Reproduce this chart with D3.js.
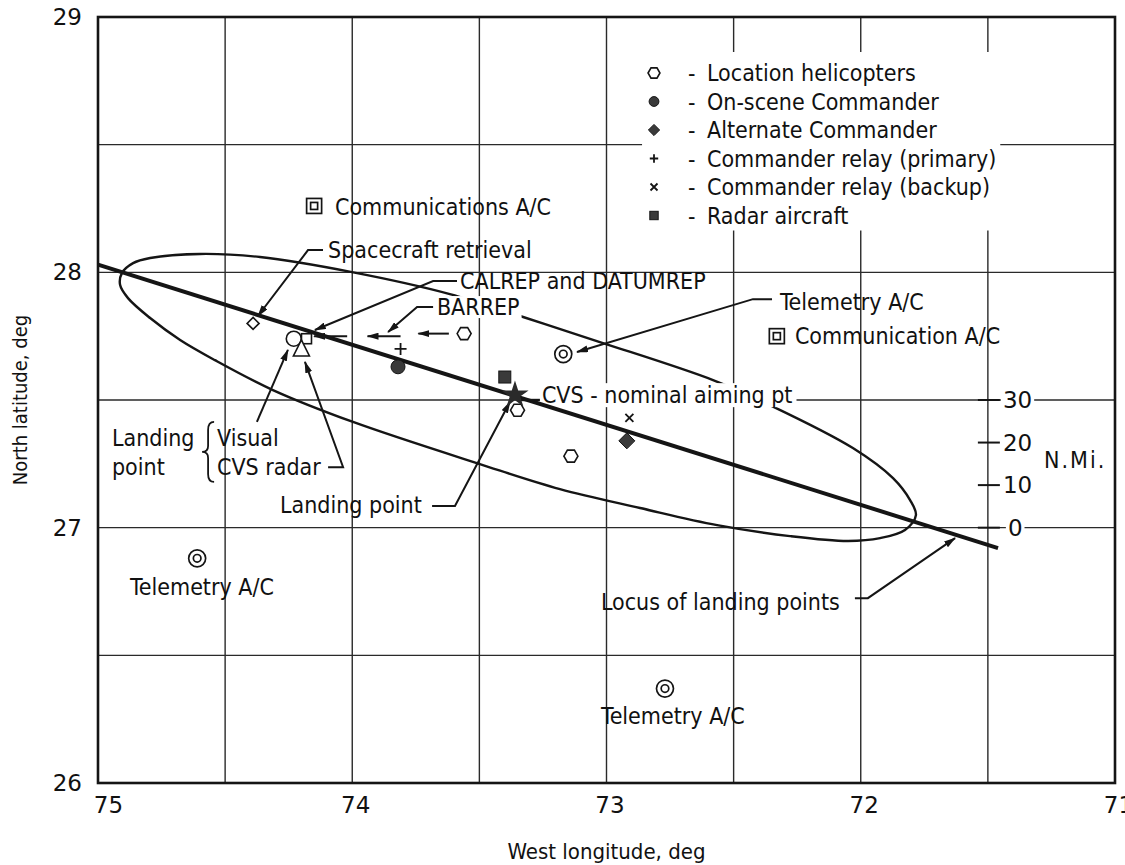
<!DOCTYPE html>
<html><head><meta charset="utf-8">
<script src="https://cdn.jsdelivr.net/npm/d3@7"></script>
<style>
body{margin:0;background:#fff;}
svg{display:block;background:#fff;}
.lbl{font-family:"DejaVu Sans Condensed","DejaVu Sans",sans-serif;font-stretch:condensed;fill:#111;}
.num{font-family:"DejaVu Sans",sans-serif;fill:#111;}
</style></head><body>
<svg id="c" width="1125" height="865"></svg>
<script>
// ---------- data ----------
const lonTicks=[75,74,73,72,71];
const latTicks=[29,28,27,26];
const gridLon=[74.5,74,73.5,73,72.5,72,71.5];
const gridLat=[28.5,28,27.5,27,26.5];

// dispersion ellipse outline (west longitude, north latitude)
const ellipseLon=[74.913,74.906,74.862,74.795,74.599,74.363,74.001,73.616,73.328,73.026,72.581,72.357,72.031,71.873,71.806,71.783,71.826,71.924,72.050,72.278,72.565,72.868,73.183,73.498,73.997,74.312,74.540,74.677,74.795,74.882];
const ellipseLat=[27.950,27.997,28.036,28.056,28.072,28.060,28.001,27.915,27.825,27.727,27.578,27.480,27.312,27.194,27.108,27.049,26.991,26.959,26.948,26.967,27.010,27.077,27.151,27.249,27.414,27.539,27.656,27.735,27.821,27.899];

// locus of landing points
const locusLon=[75.00,71.46];
const locusLat=[28.03,26.92];

// recovery forces
const helicopterLon=[73.56,73.35,73.14];
const helicopterLat=[27.76,27.46,27.28];
const commanderLon=[73.82], commanderLat=[27.63];
const altCommanderLon=[72.92], altCommanderLat=[27.34];
const relayPrimaryLon=[73.81], relayPrimaryLat=[27.70];
const relayBackupLon=[72.91], relayBackupLat=[27.43];
const radarLon=[73.40], radarLat=[27.59];
const telemetryLon=[73.17,74.61,72.77];
const telemetryLat=[27.68,26.88,26.37];
const commsLon=[74.15,72.33];
const commsLat=[28.26,27.75];
const cvsLon=[73.36], cvsLat=[27.52];
const visualLon=[74.23], visualLat=[27.74];
const cvsRadarLon=[74.20], cvsRadarLat=[27.70];
const calrepLon=[74.18], calrepLat=[27.74];
const retrievalLon=[74.39], retrievalLat=[27.80];

// drift arrows (from -> to)
const driftFromLon=[74.02,73.81,73.62];
const driftToLon=[74.15,73.94,73.74];
const driftLat=[27.75,27.75,27.76];

// N.Mi. scale
const nmiTicks=[0,10,20,30];
const nmiLon=71.5;

// legend
const legendKeys=["hex","dot","diamond","plus","cross","square"];
const legendLabels=["Location helicopters","On-scene Commander","Alternate Commander","Commander relay (primary)","Commander relay (backup)","Radar aircraft"];

// annotations: text, text anchor position, leader path
const annText=["Spacecraft retrieval","CALREP and DATUMREP","BARREP","Telemetry A/C","Visual","CVS radar","Landing point","Locus of landing points"];
const annLon=[74.095,73.576,73.667,72.318,74.532,74.532,74.284,73.022];
const annLat=[28.087,27.966,27.864,27.884,27.351,27.237,27.089,26.709];
const leaderLon=[[74.115,74.174,74.371],[73.588,73.682,74.147],[73.682,73.745,73.859],[72.349,72.424,73.116],[74.375,74.253],[74.095,74.036,74.186],[73.686,73.596,73.380],[72.023,71.972,71.629]];
const leaderLat=[[28.087,28.087,27.829],[27.966,27.966,27.774],[27.864,27.864,27.766],[27.895,27.895,27.688],[27.414,27.696],[27.237,27.237,27.649],[27.085,27.085,27.492],[26.724,26.724,26.959]];

const plainText=["Communications A/C","Communication A/C","Telemetry A/C","Telemetry A/C","Landing","point"];
const plainLon=[74.068,72.259,74.874,73.022,74.945,74.945];
const plainLat=[28.256,27.750,26.767,26.262,27.351,27.237];

const cvsLabel="CVS - nominal aiming pt";
const cvsLabelLon=73.254, cvsLabelLat=27.519;
const braceLon=74.567, braceLat=[27.414,27.179];
const nmiTitleLon=71.279, nmiTitleLat=27.265;

// ---------- drawing ----------
const FS=23;
const x=d3.scaleLinear().domain([75,71]).range([98,1115]);
const y=d3.scaleLinear().domain([29,26]).range([17,783]);
const svg=d3.select('#c');
const INK='#151515';

const defs=svg.append('defs');
defs.append('marker').attr('id','ah').attr('viewBox','0 0 12 7').attr('refX',11).attr('refY',3.5)
  .attr('markerWidth',12).attr('markerHeight',7).attr('markerUnits','userSpaceOnUse').attr('orient','auto')
  .append('path').attr('d','M0,0 L12,3.5 L0,7 Z').attr('fill',INK);

// grid
const grid=svg.append('g');
grid.selectAll('.vg').data(gridLon).join('line')
  .attr('x1',d=>x(d)).attr('x2',d=>x(d)).attr('y1',y(29)).attr('y2',y(26))
  .attr('stroke','#2a2a2a').attr('stroke-width',1.4);
grid.selectAll('.hg').data(gridLat).join('line')
  .attr('y1',d=>y(d)).attr('y2',d=>y(d)).attr('x1',x(75)).attr('x2',x(71))
  .attr('stroke','#2a2a2a').attr('stroke-width',1.4);

// ellipse
const ellPts=ellipseLon.map((d,i)=>[x(d),y(ellipseLat[i])]);
svg.append('path').attr('d',d3.line().curve(d3.curveCatmullRomClosed.alpha(0.5))(ellPts))
  .attr('fill','none').attr('stroke',INK).attr('stroke-width',2.4);

const bgLayer=svg.append('g');
const fgLayer=svg.append('g');

function addBg(sel,px,py){
  const b=sel.node().getBBox();
  bgLayer.append('rect').attr('x',b.x-px).attr('y',b.y-py).attr('width',b.width+2*px).attr('height',b.height+2*py).attr('fill','#fff');
}

// locus
fgLayer.append('path')
  .attr('d',d3.line()(locusLon.map((d,i)=>[x(d),y(locusLat[i])])))
  .attr('stroke',INK).attr('stroke-width',4).attr('fill','none');

// leaders + annotation text
annText.forEach((t,i)=>{
  const pts=leaderLon[i].map((d,j)=>[x(d),y(leaderLat[i][j])]);
  fgLayer.append('path').attr('d',d3.line()(pts)).attr('fill','none')
    .attr('stroke',INK).attr('stroke-width',2).attr('marker-end','url(#ah)');
  const tx=fgLayer.append('text').attr('class','lbl').attr('x',x(annLon[i])).attr('y',y(annLat[i]))
    .attr('dominant-baseline','central').attr('font-size',FS).text(t);
  if(t==="BARREP") addBg(tx,2,-2);
});

// drift arrows
driftFromLon.forEach((d,i)=>{
  fgLayer.append('line').attr('x1',x(d)).attr('x2',x(driftToLon[i])).attr('y1',y(driftLat[i])).attr('y2',y(driftLat[i]))
    .attr('stroke',INK).attr('stroke-width',2).attr('marker-end','url(#ah)');
});

// plain texts
plainText.forEach((t,i)=>{
  fgLayer.append('text').attr('class','lbl').attr('x',x(plainLon[i])).attr('y',y(plainLat[i]))
    .attr('dominant-baseline','central').attr('font-size',FS).text(t);
});

// CVS label
fgLayer.append('line').attr('x1',x(cvsLon[0])+6).attr('x2',x(cvsLabelLon)-2).attr('y1',y(27.5)).attr('y2',y(27.5))
  .attr('stroke',INK).attr('stroke-width',2.4);
const cvsT=fgLayer.append('text').attr('class','lbl').attr('x',x(cvsLabelLon)).attr('y',y(cvsLabelLat))
  .attr('dominant-baseline','central').attr('font-size',FS).text(cvsLabel);
addBg(cvsT,4,-1);

// brace
{
  const bx=x(braceLon), y0=y(braceLat[0]), y1=y(braceLat[1]), ym=(y0+y1)/2;
  const p=`M${bx+6},${y0} Q${bx},${y0} ${bx},${y0+8} L${bx},${ym-6} Q${bx},${ym} ${bx-6},${ym} Q${bx},${ym} ${bx},${ym+6} L${bx},${y1-8} Q${bx},${y1} ${bx+6},${y1}`;
  fgLayer.append('path').attr('d',p).attr('fill','none').attr('stroke',INK).attr('stroke-width',1.8);
}

// N.Mi. scale
nmiTicks.forEach(n=>{
  const yy=y(27+n/60);
  fgLayer.append('line').attr('x1',x(nmiLon)-10).attr('x2',x(nmiLon)+12).attr('y1',yy).attr('y2',yy)
    .attr('stroke',INK).attr('stroke-width',2);
  const t=fgLayer.append('text').attr('class','num').attr('x',x(nmiLon)+(n===0?20:15)).attr('y',yy)
    .attr('dominant-baseline','central').attr('font-size',23).text(n);
  addBg(t,2,-3);
});
fgLayer.append('text').attr('class','lbl').attr('x',x(nmiTitleLon)).attr('y',y(nmiTitleLat))
  .attr('dominant-baseline','central').attr('font-size',FS).attr('letter-spacing',2).text('N.Mi.');

// symbol helpers
function sym(gp,type,cx,cy,s){
  const k=s||1;
  if(type==='hex'){
    gp.append('path').attr('d',`M${cx-7*k},${cy} L${cx-3.5*k},${cy-6*k} L${cx+3.5*k},${cy-6*k} L${cx+7*k},${cy} L${cx+3.5*k},${cy+6*k} L${cx-3.5*k},${cy+6*k} Z`)
      .attr('fill','#fff').attr('stroke',INK).attr('stroke-width',1.6);
  } else if(type==='dot'){
    gp.append('circle').attr('cx',cx).attr('cy',cy).attr('r',7*k).attr('fill','#3a3a3a').attr('stroke',INK).attr('stroke-width',1);
  } else if(type==='diamond'){
    gp.append('path').attr('d',`M${cx},${cy-8*k} L${cx+8*k},${cy} L${cx},${cy+8*k} L${cx-8*k},${cy} Z`).attr('fill','#3a3a3a').attr('stroke',INK).attr('stroke-width',1);
  } else if(type==='plus'){
    gp.append('path').attr('d',`M${cx-6*k},${cy} H${cx+6*k} M${cx},${cy-6*k} V${cy+6*k}`).attr('stroke',INK).attr('stroke-width',1.8);
  } else if(type==='cross'){
    gp.append('path').attr('d',`M${cx-5*k},${cy-5*k} L${cx+5*k},${cy+5*k} M${cx+5*k},${cy-5*k} L${cx-5*k},${cy+5*k}`).attr('stroke',INK).attr('stroke-width',1.8);
  } else if(type==='square'){
    gp.append('rect').attr('x',cx-6*k).attr('y',cy-6*k).attr('width',12*k).attr('height',12*k).attr('fill','#3a3a3a').attr('stroke',INK).attr('stroke-width',1);
  }
}

const mk=fgLayer.append('g');
helicopterLon.forEach((d,i)=>sym(mk,'hex',x(d),y(helicopterLat[i])));
commanderLon.forEach((d,i)=>sym(mk,'dot',x(d),y(commanderLat[i])));
altCommanderLon.forEach((d,i)=>sym(mk,'diamond',x(d),y(altCommanderLat[i])));
relayPrimaryLon.forEach((d,i)=>sym(mk,'plus',x(d),y(relayPrimaryLat[i])));
relayBackupLon.forEach((d,i)=>sym(mk,'cross',x(d),y(relayBackupLat[i]),0.8));
radarLon.forEach((d,i)=>sym(mk,'square',x(d),y(radarLat[i])));
telemetryLon.forEach((d,i)=>{
  mk.append('circle').attr('cx',x(d)).attr('cy',y(telemetryLat[i])).attr('r',8.5).attr('fill','#fff').attr('stroke',INK).attr('stroke-width',1.7);
  mk.append('circle').attr('cx',x(d)).attr('cy',y(telemetryLat[i])).attr('r',3.8).attr('fill','none').attr('stroke',INK).attr('stroke-width',1.7);
});
commsLon.forEach((d,i)=>{
  const cx=x(d), cy=y(commsLat[i]);
  mk.append('rect').attr('x',cx-7.5).attr('y',cy-7.5).attr('width',15).attr('height',15).attr('fill','#fff').attr('stroke',INK).attr('stroke-width',1.7);
  mk.append('rect').attr('x',cx-3.5).attr('y',cy-3.5).attr('width',7).attr('height',7).attr('fill','none').attr('stroke',INK).attr('stroke-width',1.7);
});
retrievalLon.forEach((d,i)=>{
  const cx=x(d), cy=y(retrievalLat[i]);
  mk.append('path').attr('d',`M${cx},${cy-6} L${cx+6},${cy} L${cx},${cy+6} L${cx-6},${cy} Z`).attr('fill','#fff').attr('stroke',INK).attr('stroke-width',1.6);
});
visualLon.forEach((d,i)=>mk.append('circle').attr('cx',x(d)).attr('cy',y(visualLat[i])).attr('r',7.5).attr('fill','#fff').attr('stroke',INK).attr('stroke-width',1.6));
calrepLon.forEach((d,i)=>mk.append('rect').attr('x',x(d)-5).attr('y',y(calrepLat[i])-5).attr('width',10).attr('height',10).attr('fill','#fff').attr('stroke',INK).attr('stroke-width',1.6));
cvsRadarLon.forEach((d,i)=>{
  const cx=x(d), cy=y(cvsRadarLat[i]);
  mk.append('path').attr('d',`M${cx},${cy-9} L${cx+8},${cy+7} L${cx-8},${cy+7} Z`).attr('fill','#fff').attr('stroke',INK).attr('stroke-width',1.6);
});
cvsLon.forEach((d,i)=>mk.append('path').attr('transform',`translate(${x(d)},${y(cvsLat[i])})`)
  .attr('d',d3.symbol().type(d3.symbolStar).size(230)()).attr('fill','#2a2a2a'));

// legend
const lg=fgLayer.append('g').attr('transform','translate(654,73)');
legendKeys.forEach((k,i)=>{
  const yy=i*28.5;
  sym(lg,k,0,yy,k==='hex'?0.85:0.7);
  lg.append('text').attr('class','lbl').attr('x',34).attr('y',yy).attr('dominant-baseline','central').attr('font-size',FS).text('-');
  lg.append('text').attr('class','lbl').attr('x',53).attr('y',yy).attr('dominant-baseline','central').attr('font-size',FS).text(legendLabels[i]);
});
{
  const b=lg.node().getBBox();
  bgLayer.append('rect').attr('x',654+b.x-6).attr('y',73+b.y-8).attr('width',b.width+10).attr('height',b.height+10).attr('fill','#fff');
}

// frame
svg.append('rect').attr('x',x(75)).attr('y',y(29)).attr('width',x(71)-x(75)).attr('height',y(26)-y(29))
  .attr('fill','none').attr('stroke',INK).attr('stroke-width',2.6);

// axes
const xa=svg.append('g').attr('transform',`translate(0,${y(26)})`)
  .call(d3.axisBottom(x).tickValues(lonTicks).tickSize(0).tickPadding(14).tickFormat(d3.format('d')));
xa.select('.domain').remove();
xa.selectAll('text').attr('class','num').attr('font-size',23).attr('fill',INK)
  .attr('dx',d=>d===75?10:3);
const ya=svg.append('g').attr('transform',`translate(${x(75)},0)`)
  .call(d3.axisLeft(y).tickValues(latTicks).tickSize(0).tickPadding(16).tickFormat(d3.format('d')));
ya.select('.domain').remove();
ya.selectAll('text').attr('class','num').attr('font-size',23).attr('fill',INK);

svg.append('text').attr('class','lbl').attr('x',x(73)).attr('y',851).attr('text-anchor','middle')
  .attr('dominant-baseline','central').attr('font-size',22).text('West longitude, deg');
svg.append('text').attr('class','lbl').attr('transform',`translate(20,${y(27.5)}) rotate(-90)`).attr('text-anchor','middle')
  .attr('dominant-baseline','central').attr('font-size',20).text('North latitude, deg');
</script>
</body></html>
